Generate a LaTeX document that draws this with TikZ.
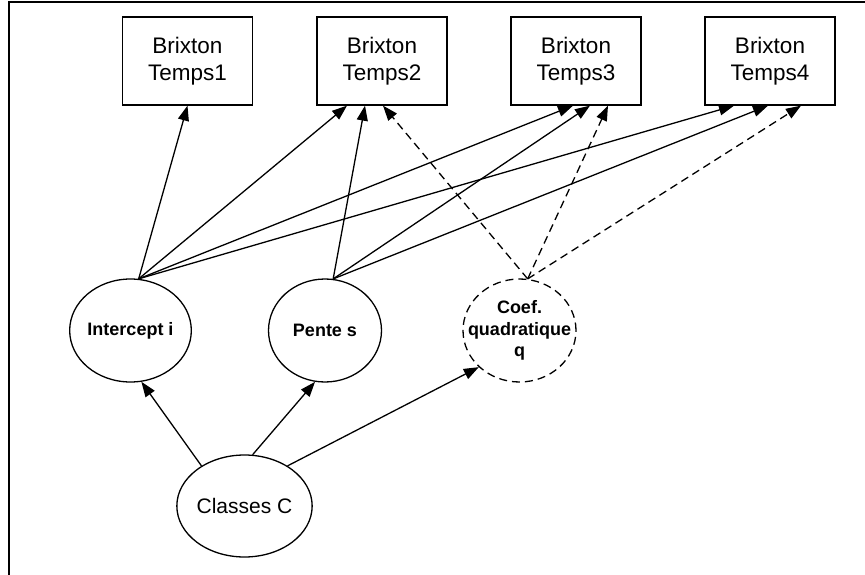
\documentclass[tikz,border=0pt]{standalone}
\usepackage{fontspec}
\setmainfont{Liberation Sans}
\usetikzlibrary{shapes.geometric,arrows.meta}
\begin{document}
\begin{tikzpicture}[x=1pt,y=-1pt,
  box/.style={draw,line width=1.3pt,minimum width=130pt,minimum height=88pt,inner sep=0pt,align=center,font=\fontsize{22.5}{27}\selectfont},
  lat/.style={draw,ellipse,line width=1.3pt,minimum width=113pt,minimum height=103pt,inner sep=0pt,align=center,font=\fontsize{18}{21.5}\selectfont\bfseries},
  lbl/.style={inner sep=0pt,align=center,font=\fontsize{18}{21.5}\selectfont\bfseries},
  arr/.style={line width=1.3pt,-{Triangle[length=15pt,width=11pt]}},
  dsh/.style={arr,dash pattern=on 8pt off 5pt}]
\useasboundingbox (0,0) rectangle (865,575);
\draw[line width=1.6pt] (9,575) -- (9,2) -- (865,2);

\node[box] (b1) at (187.5,61) {Brixton\\Temps1};
\node[box] (b2) at (382,61) {Brixton\\Temps2};
\node[box] (b3) at (576,61) {Brixton\\Temps3};
\node[box] (b4) at (770,61) {Brixton\\Temps4};

\node[lat] (i) at (130.5,330.5) {Intercept i};
\node[lat] (s) at (325,330.5) {Pente s};
\node[lat,dash pattern=on 8pt off 5pt] (q) at (519.5,330.5) {};
\node[lbl] (qt) at (q.center) {Coef.\\quadratique\\q};
\node[lat,font=\fontsize{21}{25}\selectfont,minimum width=115pt,minimum height=102pt] (c) at (244.5,506) {Classes C};

\draw[arr] (i.81) -- (b1.south);
\draw[arr] (i.81) -- ([xshift=-35pt]b2.south);
\draw[arr] (i.81) -- ([xshift=-3pt]b3.south);
\draw[arr] (i.81) -- ([xshift=-36pt]b4.south);
\draw[arr] (s.81) -- ([xshift=-17pt]b2.south);
\draw[arr] (s.81) -- ([xshift=14pt]b3.south);
\draw[arr] (s.81) -- ([xshift=-2pt]b4.south);
\draw[dsh] (q.81) -- ([xshift=1pt]b2.south);
\draw[dsh] (q.81) -- ([xshift=32pt]b3.south);
\draw[dsh] (q.81) -- ([xshift=31pt]b4.south);

\draw[arr] (c.137.5) -- (i.282.6);
\draw[arr] (c.81.6) -- (s.259);
\draw[arr] (c.43) -- (q.222);
\end{tikzpicture}
\end{document}
